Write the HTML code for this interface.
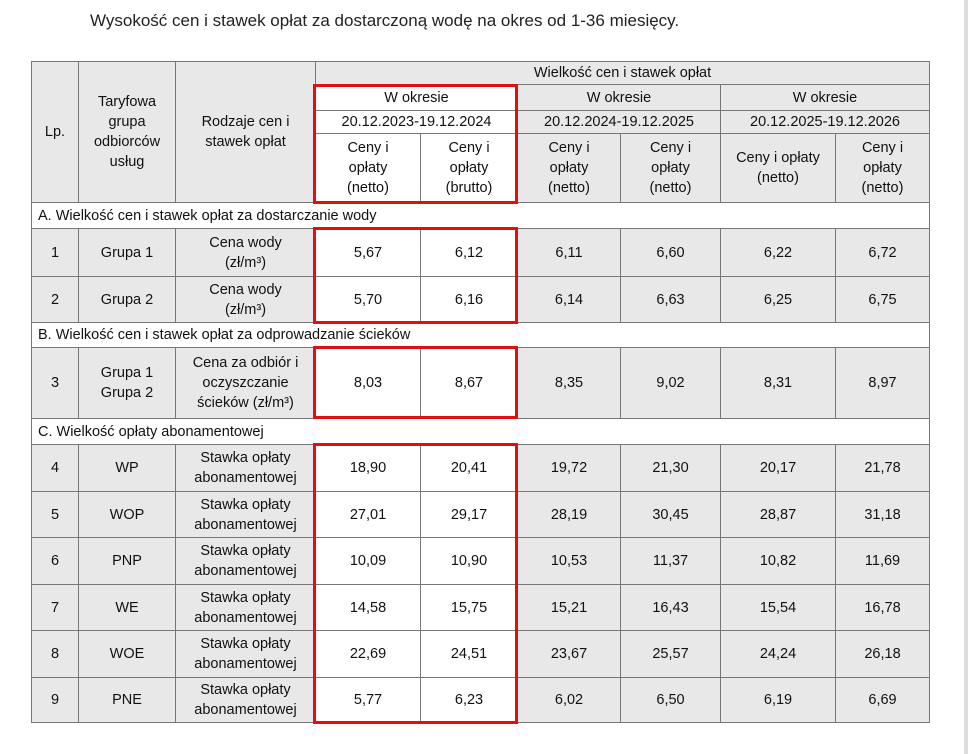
<!DOCTYPE html>
<html><head><meta charset="utf-8"><style>
body{margin:0;width:968px;height:754px;background:#fff;position:relative;overflow:hidden;font-family:"Liberation Sans",sans-serif;}
.t{position:absolute;left:90px;top:11px;font-size:17px;color:#222;}
table{position:absolute;left:31px;top:61px;border-collapse:collapse;table-layout:fixed;font-size:14.5px;color:#111;}
td{border:1.5px solid #777;background:#e8e8e8;text-align:center;vertical-align:middle;padding:0;line-height:20px;}
td.s{background:#fff;text-align:left;padding-left:6px;}
td.w{background:#fff;}
.r{position:absolute;border:3px solid #e01010;box-sizing:border-box;}
.edge{position:absolute;right:0;top:0;width:4px;height:754px;background:#ddd;}
</style></head><body>
<div class="t">Wysokość cen i stawek opłat za dostarczoną wodę na okres od 1-36 miesięcy.</div>
<table>
<colgroup><col style="width:47px"><col style="width:97px"><col style="width:140px"><col style="width:105px"><col style="width:97px"><col style="width:103px"><col style="width:100px"><col style="width:115px"><col style="width:94px"></colgroup>
<tr style="height:23px"><td rowspan="4">Lp.</td><td rowspan="4">Taryfowa<br>grupa<br>odbiorców<br>usług</td><td rowspan="4">Rodzaje cen i<br>stawek opłat</td><td colspan="6">Wielkość cen i stawek opłat</td></tr>
<tr style="height:26px"><td colspan="2" class="w">W okresie</td><td colspan="2">W okresie</td><td colspan="2">W okresie</td></tr>
<tr style="height:23px"><td colspan="2" class="w">20.12.2023-19.12.2024</td><td colspan="2">20.12.2024-19.12.2025</td><td colspan="2">20.12.2025-19.12.2026</td></tr>
<tr style="height:69px"><td class="w">Ceny i<br>opłaty<br>(netto)</td><td class="w">Ceny i<br>opłaty<br>(brutto)</td><td>Ceny i<br>opłaty<br>(netto)</td><td>Ceny i<br>opłaty<br>(netto)</td><td>Ceny i opłaty<br>(netto)</td><td>Ceny i<br>opłaty<br>(netto)</td></tr>
<tr style="height:26px"><td colspan="9" class="s">A. Wielkość cen i stawek opłat za dostarczanie wody</td></tr>
<tr style="height:48px"><td>1</td><td>Grupa 1</td><td>Cena wody<br>(zł/m³)</td><td class="w">5,67</td><td class="w">6,12</td><td>6,11</td><td>6,60</td><td>6,22</td><td>6,72</td></tr>
<tr style="height:46px"><td>2</td><td>Grupa 2</td><td>Cena wody<br>(zł/m³)</td><td class="w">5,70</td><td class="w">6,16</td><td>6,14</td><td>6,63</td><td>6,25</td><td>6,75</td></tr>
<tr style="height:25px"><td colspan="9" class="s">B. Wielkość cen i stawek opłat za odprowadzanie ścieków</td></tr>
<tr style="height:71px"><td>3</td><td>Grupa 1<br>Grupa 2</td><td>Cena za odbiór i<br>oczyszczanie<br>ścieków (zł/m³)</td><td class="w">8,03</td><td class="w">8,67</td><td>8,35</td><td>9,02</td><td>8,31</td><td>8,97</td></tr>
<tr style="height:26px"><td colspan="9" class="s">C. Wielkość opłaty abonamentowej</td></tr>
<tr style="height:47px"><td>4</td><td>WP</td><td>Stawka opłaty<br>abonamentowej</td><td class="w">18,90</td><td class="w">20,41</td><td>19,72</td><td>21,30</td><td>20,17</td><td>21,78</td></tr>
<tr style="height:46px"><td>5</td><td>WOP</td><td>Stawka opłaty<br>abonamentowej</td><td class="w">27,01</td><td class="w">29,17</td><td>28,19</td><td>30,45</td><td>28,87</td><td>31,18</td></tr>
<tr style="height:47px"><td>6</td><td>PNP</td><td>Stawka opłaty<br>abonamentowej</td><td class="w">10,09</td><td class="w">10,90</td><td>10,53</td><td>11,37</td><td>10,82</td><td>11,69</td></tr>
<tr style="height:46px"><td>7</td><td>WE</td><td>Stawka opłaty<br>abonamentowej</td><td class="w">14,58</td><td class="w">15,75</td><td>15,21</td><td>16,43</td><td>15,54</td><td>16,78</td></tr>
<tr style="height:47px"><td>8</td><td>WOE</td><td>Stawka opłaty<br>abonamentowej</td><td class="w">22,69</td><td class="w">24,51</td><td>23,67</td><td>25,57</td><td>24,24</td><td>26,18</td></tr>
<tr style="height:45px"><td>9</td><td>PNE</td><td>Stawka opłaty<br>abonamentowej</td><td class="w">5,77</td><td class="w">6,23</td><td>6,02</td><td>6,50</td><td>6,19</td><td>6,69</td></tr>
</table>
<div class="r" style="left:313px;top:84px;width:205px;height:120px"></div>
<div class="r" style="left:313px;top:227px;width:205px;height:97px"></div>
<div class="r" style="left:313px;top:346px;width:205px;height:73px"></div>
<div class="r" style="left:313px;top:443px;width:205px;height:281px"></div>
<div class="edge"></div>
</body></html>
